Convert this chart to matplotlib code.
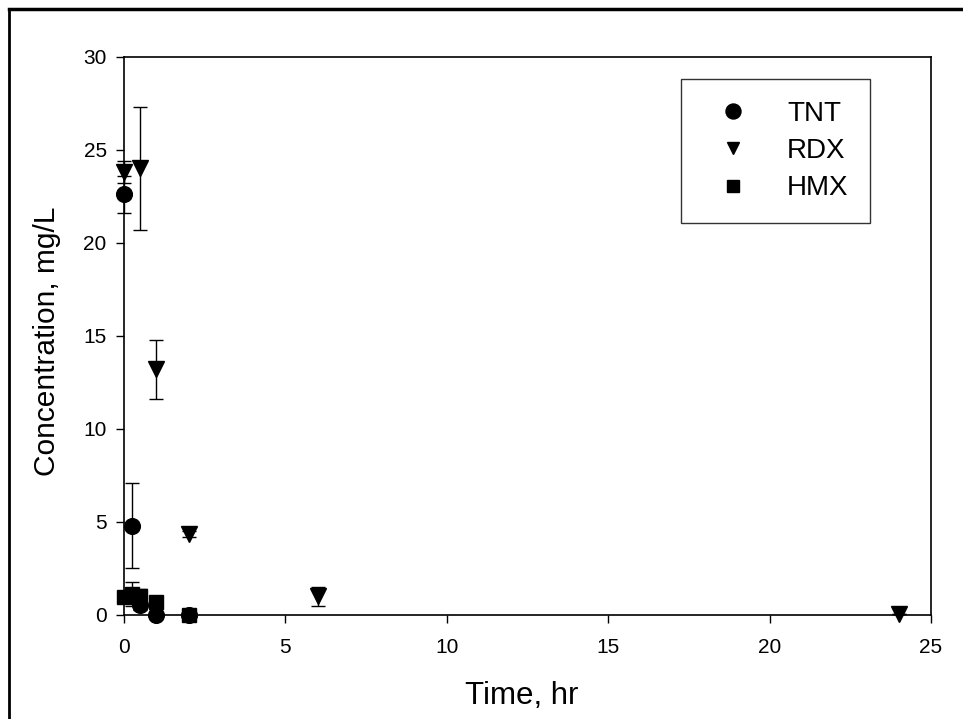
import matplotlib
matplotlib.use("Agg")
import matplotlib.pyplot as plt
from matplotlib.lines import Line2D

plt.rcParams['font.family'] = ['Liberation Sans', 'DejaVu Sans']

tnt_t = [0, 0.25, 0.5, 1, 2]
tnt_c = [22.6, 4.8, 0.55, 0.0, 0.0]
tnt_e = [1.0, 2.3, 0.3, 0.0, 0.0]

rdx_t = [0, 0.5, 1, 2, 6, 24]
rdx_c = [23.8, 24.0, 13.2, 4.35, 1.0, 0.05]
rdx_e = [0.6, 3.3, 1.6, 0.15, 0.5, 0.0]

hmx_t = [0, 0.25, 0.5, 1, 2]
hmx_c = [0.95, 1.15, 1.0, 0.68, 0.0]
hmx_e = [0.0, 0.65, 0.4, 0.0, 0.0]

xticks = [0, 5, 10, 15, 20, 25]
yticks = [0, 5, 10, 15, 20, 25, 30]

fig = plt.figure(figsize=(9.63, 7.19), dpi=100)
ax = fig.add_axes([124 / 963, 104 / 719, 807 / 963, 558.3 / 719])

ekw = dict(ecolor='black', elinewidth=1.0, capsize=5, capthick=1.0,
           linestyle='none', clip_on=False)
ax.errorbar(tnt_t, tnt_c, yerr=tnt_e, marker='o', ms=11.3, color='black', label='TNT', zorder=3, **ekw)
ax.errorbar(rdx_t, rdx_c, yerr=rdx_e, marker='v', ms=11, color='black', label='RDX', zorder=3, **ekw)
ax.errorbar(hmx_t, hmx_c, yerr=hmx_e, marker='s', ms=9.6, color='black', label='HMX', zorder=3, **ekw)

ax.set_xlim(0, 25)
ax.set_ylim(0, 30)
ax.set_xticks(xticks)
ax.set_yticks(yticks)
ax.tick_params(direction='out', length=5.8, width=1, labelsize=15, colors='black')
ax.tick_params(axis='x', pad=10.5)
ax.tick_params(axis='y', pad=6.7)
for s in ax.spines.values():
    s.set_linewidth(1.2)
ax.set_xlabel('Time, hr', fontsize=22.5)
ax.set_ylabel('Concentration, mg/L', fontsize=21.5)
ax.xaxis.set_label_coords(0.493, -0.118)
ax.yaxis.set_label_coords(-0.078, 0.49)

handles = [Line2D([], [], marker='o', ms=10.8, color='black', linestyle='none'),
           Line2D([], [], marker='v', ms=9, color='black', linestyle='none'),
           Line2D([], [], marker='s', ms=8.5, color='black', linestyle='none')]
labels = ['TNT', 'RDX', 'HMX']
leg = fig.legend(handles, labels, loc='upper left',
                 bbox_to_anchor=(680.7 / 963, 1 - 79 / 719),
                 frameon=True, fancybox=False, edgecolor='black',
                 fontsize=20, handletextpad=0.83, labelspacing=0.41,
                 borderpad=0.78, handlelength=2.22, borderaxespad=0)
leg.get_frame().set_linewidth(1.0)

# outer frame (top and left edges visible)
fig.add_artist(Line2D([9 / 963, 1.0], [1 - 9 / 719, 1 - 9 / 719],
                      transform=fig.transFigure, color='black', linewidth=2.5))
fig.add_artist(Line2D([9 / 963, 9 / 963], [0, 1 - 9 / 719],
                      transform=fig.transFigure, color='black', linewidth=2.0))

fig.savefig('out.png', dpi=100)
